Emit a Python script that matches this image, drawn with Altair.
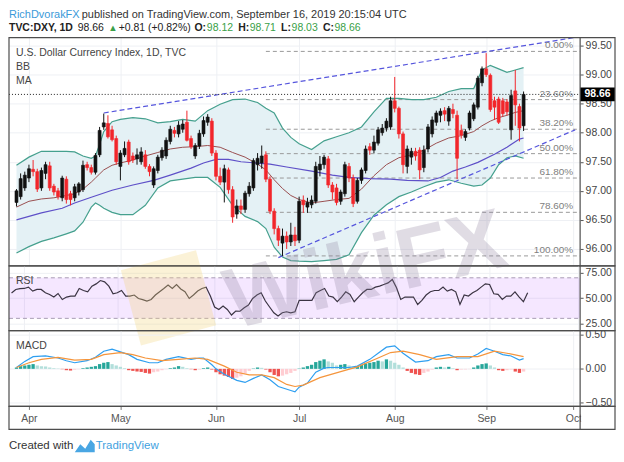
import altair as alt
import pandas as pd

FONT = "Liberation Sans"
W = 573          # plot width (all panels)
AXW = 35         # price-axis column width
H1, H2, H3 = 229, 65, 76
XROW = 23
FRAME = "#4d4d4d"
GRID = "#eef0f4"
UP, DN = "#111111", "#f2262b"

# ---------------- data ----------------
first_bar = -3   # bar index; Apr 1 = 0
opens = [96.80, 96.90, 97.05, 97.22, 97.37, 97.33, 97.05, 97.30, 97.43, 97.08, 97.00, 96.88, 97.20, 96.95, 96.88, 96.98, 97.02, 97.45, 97.40, 97.32, 97.62, 98.10, 98.16, 98.05, 97.90,
         97.42, 97.62, 97.84, 97.60, 97.55, 97.50, 97.62, 97.42, 97.10, 97.35, 97.57, 97.60, 97.85, 98.04, 97.98, 98.06, 98.18, 97.90, 97.60, 97.77, 97.98, 98.18, 98.20,
         97.65, 97.25, 97.15, 97.36, 97.02, 96.60, 96.74, 96.68, 96.95, 97.05, 97.45, 97.48, 97.62, 97.20, 96.65, 96.35, 96.10, 96.22, 96.12, 96.24,
         96.15, 96.84, 96.72, 96.76, 96.82, 97.36, 97.45, 97.55, 97.10, 97.05, 96.82, 96.95, 97.42, 97.22, 96.82, 97.18, 97.35, 97.76, 97.70, 97.82, 98.00, 98.08, 98.10,
         98.55, 98.42, 97.98, 97.42, 97.58, 97.68, 97.70, 97.40, 97.72, 97.98, 98.18, 98.30, 98.38, 98.20, 98.40, 98.30, 98.04, 97.92, 98.08, 98.24, 98.44, 98.86,
         99.10, 98.99, 98.55, 98.58, 98.55, 98.53, 98.05, 98.72, 98.45, 98.12]
highs = [97.03, 97.30, 97.33, 97.45, 97.53, 97.38, 97.40, 97.50, 97.50, 97.12, 97.05, 97.26, 97.25, 97.00, 97.12, 97.15, 97.52, 97.50, 97.45, 97.65, 98.10, 98.33, 98.30, 98.12, 97.95,
         97.70, 97.85, 97.88, 97.66, 97.73, 97.75, 97.70, 97.46, 97.42, 97.62, 97.75, 97.92, 98.12, 98.10, 98.20, 98.22, 98.38, 97.95, 97.82, 98.05, 98.28, 98.32, 98.25,
         97.70, 97.40, 97.45, 97.40, 97.08, 96.85, 96.85, 97.00, 97.15, 97.56, 97.65, 97.78, 97.68, 97.25, 96.70, 96.40, 96.35, 96.30, 96.45, 96.38,
         96.90, 96.92, 96.88, 96.92, 97.50, 97.60, 97.62, 97.60, 97.15, 97.12, 97.02, 97.50, 97.48, 97.28, 97.22, 97.40, 97.78, 97.82, 97.95, 98.10, 98.15, 98.25, 98.62,
         98.96, 98.45, 98.02, 97.78, 97.74, 97.74, 97.75, 97.78, 98.15, 98.28, 98.38, 98.42, 98.44, 98.46, 98.50, 98.38, 98.14, 98.06, 98.38, 98.52, 98.98, 99.14,
         99.37, 99.02, 98.62, 98.62, 98.60, 98.58, 98.74, 99.08, 98.50, 98.71]
lows = [96.73, 96.85, 97.00, 97.15, 97.25, 96.98, 97.00, 97.20, 97.00, 96.92, 96.85, 96.82, 96.78, 96.75, 96.82, 96.92, 96.98, 97.35, 97.28, 97.28, 97.58, 98.05, 97.90, 97.85, 97.45,
        97.18, 97.58, 97.45, 97.48, 97.45, 97.45, 97.38, 97.25, 97.05, 97.30, 97.52, 97.55, 97.80, 97.92, 97.92, 98.00, 97.85, 97.72, 97.55, 97.72, 97.93, 98.12, 97.60,
        97.18, 97.10, 96.80, 96.95, 96.45, 96.52, 96.60, 96.62, 96.90, 97.00, 97.35, 97.38, 97.15, 96.60, 96.25, 96.05, 95.88, 96.00, 96.05, 96.05,
        96.10, 96.62, 96.62, 96.70, 96.78, 97.25, 97.38, 97.05, 96.85, 96.75, 96.76, 96.90, 97.15, 96.72, 96.78, 97.12, 97.30, 97.62, 97.65, 97.78, 97.95, 98.02, 98.05,
        98.35, 97.90, 97.30, 97.30, 97.45, 97.52, 97.20, 97.32, 97.66, 97.92, 98.12, 98.18, 98.20, 98.12, 98.25, 97.20, 97.90, 97.86, 98.04, 98.20, 98.40, 98.80,
        98.96, 98.36, 98.22, 98.15, 98.28, 98.30, 97.88, 98.12, 97.85, 98.03]
closes = [97.00, 97.21, 97.27, 97.38, 97.33, 97.03, 97.35, 97.45, 97.05, 96.98, 96.90, 97.22, 96.85, 96.85, 97.07, 97.12, 97.44, 97.40, 97.32, 97.61, 98.04, 98.17, 97.93, 97.88, 97.50,
          97.65, 97.73, 97.50, 97.53, 97.62, 97.67, 97.42, 97.33, 97.38, 97.58, 97.70, 97.87, 98.06, 97.99, 98.13, 98.15, 97.87, 97.76, 97.78, 97.99, 98.21, 98.27, 97.65,
          97.25, 97.15, 97.38, 97.02, 96.55, 96.74, 96.68, 96.96, 97.08, 97.52, 97.56, 97.60, 97.20, 96.65, 96.35, 96.15, 96.22, 96.12, 96.24, 96.14,
          96.82, 96.76, 96.80, 96.84, 97.42, 97.46, 97.58, 97.10, 96.98, 96.80, 96.98, 97.45, 97.22, 96.78, 97.18, 97.36, 97.72, 97.70, 97.84, 98.05, 98.08, 98.20, 98.55,
          98.42, 97.98, 97.45, 97.72, 97.68, 97.60, 97.36, 97.70, 98.10, 98.22, 98.34, 98.37, 98.32, 98.42, 98.33, 97.56, 97.96, 98.02, 98.34, 98.48, 98.94, 99.10,
          99.00, 98.40, 98.44, 98.18, 98.33, 98.36, 98.64, 98.48, 98.08, 98.66]

bb_idx = [-3, 0, 3, 6, 9, 11, 13, 15, 16, 17, 18, 20, 22, 25, 28, 31, 34, 37, 40, 43, 46, 49, 52, 55, 57,
          59, 61, 63, 65, 68, 71, 74, 77, 80, 83, 86, 89, 92, 95, 98, 101, 104, 107, 109, 111, 113, 115, 117, 119]
bb_upper = [97.44, 97.58, 97.68, 97.68, 97.68, 97.67, 97.60, 97.56, 97.60, 97.80, 98.02, 98.19, 98.23, 98.26, 98.24, 98.17, 98.19, 98.23, 98.20, 98.38, 98.49, 98.57, 98.58, 98.52, 98.42,
            98.34, 98.08, 97.92, 97.81, 97.71, 97.86, 97.93, 98.00, 98.10, 98.36, 98.59, 98.59, 98.57, 98.57, 98.61, 98.71, 98.76, 98.76, 99.08, 99.16, 99.10, 99.04, 99.08, 99.12]
bb_basis = [96.72, 96.82, 96.86, 96.88, 96.92, 96.95, 97.03, 97.15, 97.22, 97.29, 97.36, 97.44, 97.48, 97.53, 97.60, 97.66, 97.72, 97.75, 97.76, 97.78, 97.75, 97.66, 97.58, 97.46, 97.36,
            97.19, 97.04, 96.92, 96.85, 96.79, 96.82, 96.85, 96.87, 97.03, 97.26, 97.45, 97.57, 97.62, 97.70, 97.82, 97.91, 97.95, 98.02, 98.12, 98.20, 98.26, 98.30, 98.35, 98.38]
bb_lower = [95.93, 96.04, 96.13, 96.19, 96.26, 96.31, 96.46, 96.72, 96.79, 96.75, 96.70, 96.63, 96.59, 96.59, 96.75, 97.05, 97.17, 97.20, 97.23, 97.23, 97.06, 96.75, 96.56, 96.47, 96.35,
            96.03, 95.86, 95.80, 95.79, 95.78, 95.80, 95.82, 95.90, 96.28, 96.58, 96.76, 96.90, 96.98, 97.07, 97.15, 97.19, 97.13, 97.08, 97.10, 97.22, 97.45, 97.57, 97.60, 97.56]

ma_idx = [-3, 3, 8, 11, 15, 20, 25, 30, 34, 39, 42, 45, 48, 51, 58, 62, 68, 73, 77, 82, 87, 91, 96, 99, 102, 105, 108, 112, 115, 118, 119]
ma_val = [96.50, 96.62, 96.70, 96.79, 96.89, 97.01, 97.10, 97.18, 97.27, 97.39, 97.48, 97.54, 97.54, 97.50, 97.46, 97.41,
          97.34, 97.27, 97.23, 97.21, 97.20, 97.18, 97.17, 97.23, 97.34, 97.41, 97.49, 97.63, 97.75, 97.89, 97.91]

fib_labels = ["0.00%", "23.60%", "38.20%", "50.00%", "61.80%", "78.60%", "100.00%"]
fib_levels = [99.40, 98.57, 98.06, 97.64, 97.22, 96.63, 95.88]
fib_start = 57

trend_id = ["upper", "upper", "lower", "lower"]
trend_idx = [18, 131.4, 60, 131.4]
trend_val = [98.34, 99.64, 95.85, 98.05]

last_price = 98.66

rsi = [55, 58.5, 59.4, 59.5, 60.8, 56.9, 58.5, 58.5, 55.2, 53.6, 51, 54.5, 48.6, 51, 52, 52, 59.4, 57.5, 56.2, 61.8, 64, 67.3, 66, 61.8, 54.2,
       55.2, 57.5, 52, 52, 53, 49.6, 48.5, 47.1, 48.6, 53, 56.2, 59.4, 62.8, 59.4, 63.4, 59, 56.2, 49.6, 53, 56.9, 59.4, 60.8, 52,
       41.2, 38.8, 42.1, 38.8, 33.3, 37.2, 37, 40.5, 43.1, 49.6, 53, 55.2, 47.1, 41.2, 35.5, 32.3, 35.5, 36.5, 35.5, 36.5,
       47.7, 47.7, 47.7, 47.7, 55.2, 57.5, 59.4, 52, 51, 46.4, 51, 56.2, 53.6, 46.4, 51, 55.2, 58.5, 58.5, 60.8, 61.8, 63.4, 65, 68.3,
       60.1, 48.6, 51, 51, 51, 43.7, 47.7, 53, 56.2, 57.5, 57.5, 60.8, 56.9, 58.5, 56.2, 43.7, 53, 52, 55.2, 57.5, 60.8, 64,
       63.4, 54.2, 53.6, 48.6, 52, 52, 56.2, 51, 46.4, 55.2]

macd_idx = [-3, -1, 1, 4, 7, 9, 11, 14, 16, 18, 20, 22, 24, 26, 29, 31, 33, 36, 39, 41, 42, 44, 45, 47, 50, 52, 54, 56, 58, 60,
            63, 64, 65, 67, 69, 71, 72, 75, 77, 79, 82, 84, 86, 88, 90, 93, 96, 98, 101, 103, 106, 108, 110, 112, 114, 116, 118, 119]
macd_val = [0.02, 0.11, 0.18, 0.19, 0.16, 0.12, 0.09, 0.12, 0.17, 0.26, 0.29, 0.25, 0.21, 0.14, 0.09, 0.09, 0.14, 0.18, 0.14, 0.16, 0.16, 0.06, 0.00, -0.08, -0.17, -0.20, -0.14, -0.09, -0.16, -0.26,
            -0.32, -0.34, -0.27, -0.21, -0.05, 0.01, 0.02, 0.02, 0.02, 0.04, 0.14, 0.23, 0.32, 0.34, 0.23, 0.10, 0.12, 0.18, 0.21, 0.16, 0.16, 0.22, 0.30, 0.26, 0.21, 0.19, 0.13, 0.15]
sig_idx = [-3, 0, 3, 7, 11, 15, 18, 22, 25, 28, 32, 36, 40, 43, 47, 50, 53, 56, 59, 62, 64, 66, 70, 75, 79, 84, 87, 90, 94, 98, 103, 108, 112, 115, 119]
sig_val = [0.02, 0.09, 0.14, 0.17, 0.13, 0.14, 0.21, 0.24, 0.21, 0.16, 0.12, 0.14, 0.16, 0.14, 0.04, -0.05, -0.09, -0.09, -0.13, -0.23, -0.26, -0.24, -0.13, -0.04, 0.03, 0.16, 0.24, 0.26, 0.21, 0.14, 0.18, 0.18, 0.26, 0.23, 0.18]
hist = [0.02, 0.04, 0.05, 0.06, 0.07, 0.05, 0.04, 0.035, 0.02, 0.01, 0.005, -0.005, -0.02, -0.025, -0.012, -0.005, 0.01, 0.02, 0.03, 0.04, 0.07, 0.09, 0.10, 0.07, 0.05,
        0.03, 0.01, -0.02, -0.03, -0.04, -0.045, -0.06, -0.07, -0.05, -0.04, -0.02, -0.005, 0.01, 0.02, 0.04, 0.03, 0.01, -0.005, -0.02, -0.01, 0.01, 0.02, -0.01,
        -0.05, -0.08, -0.10, -0.12, -0.15, -0.13, -0.11, -0.07, -0.03, 0.005, 0.02, 0.015, -0.01, -0.05, -0.09, -0.11, -0.10, -0.08, -0.06, -0.03,
        0.005, 0.02, 0.04, 0.06, 0.10, 0.12, 0.14, 0.11, 0.09, 0.05, 0.06, 0.07, 0.05, 0.03, 0.04, 0.06, 0.08, 0.09, 0.10, 0.12, 0.11, 0.14, 0.12,
        0.09, 0.06, 0.02, -0.03, -0.06, -0.08, -0.09, -0.06, -0.04, -0.01, 0.02, 0.03, 0.02, 0.03, 0.01, -0.02, -0.01, -0.008, -0.004, 0.02, 0.05, 0.07,
        0.08, 0.05, 0.02, -0.02, -0.03, -0.02, -0.01, -0.04, -0.06, -0.04]

month_ticks = [0, 22, 45, 65, 88, 110, 131]
month_names = ["Apr", "May", "Jun", "Jul", "Aug", "Sep", "Oct"]
price_ticks = [96.0, 96.5, 97.0, 97.5, 98.0, 98.5, 99.0, 99.5]
rsi_ticks = [25, 50, 75]
macd_ticks = [-0.5, 0.0, 0.5]

# ---------------- tables ----------------
bar_index = list(range(first_bar, first_bar + len(opens)))
bars = pd.DataFrame({"i": bar_index, "o": opens, "h": highs, "l": lows, "c": closes})
bb = pd.DataFrame({"i": bb_idx, "u": bb_upper, "b": bb_basis, "lo": bb_lower})
ma = pd.DataFrame({"i": ma_idx, "v": ma_val})
fib = pd.DataFrame({"i": [fib_start] * len(fib_levels), "v": fib_levels, "t": fib_labels})
trend = pd.DataFrame({"g": trend_id, "i": trend_idx, "v": trend_val})
rsi_df = pd.DataFrame({"i": bar_index, "v": rsi})
macd_df = pd.DataFrame({"i": macd_idx, "v": macd_val})
sig_df = pd.DataFrame({"i": sig_idx, "v": sig_val})
hist_df = pd.DataFrame({"i": bar_index, "v": hist})
prev = hist_df["v"].shift(1).fillna(-1)
hist_df["col"] = [
    ("#26A69A" if v > p else "#B2DFDB") if v >= 0 else ("#EF5350" if v < p else "#FFCDD2")
    for v, p in zip(hist_df["v"], prev)
]
hist_df["zero"] = 0.0

# ---------------- scales / axes ----------------
xscale = alt.Scale(domain=[-3.6, 131.4], nice=False, zero=False)
ymain = alt.Scale(domain=[95.708, 99.637], nice=False, zero=False)
yrsi = alt.Scale(domain=[17.85, 81.76], nice=False, zero=False)
ymacd = alt.Scale(domain=[-0.554, 0.563], nice=False, zero=False)

x_grid_axis = alt.Axis(values=month_ticks, labels=False, ticks=False, domain=False, grid=True,
                       gridColor=GRID, title=None)
label_expr = "''"
for t, n in reversed(list(zip(month_ticks, month_names))):
    label_expr = f"datum.value == {t} ? '{n}' : " + label_expr
x_lab_axis = alt.Axis(values=month_ticks, labelExpr=label_expr, domain=False, grid=True, gridColor=GRID,
                      tickSize=3, tickColor="#777", labelPadding=4, labelFontSize=10.5, labelColor="#555",
                      labelFlush=False, labelOverlap=False, title=None, labelFont=FONT)


def yaxis(vals):
    return alt.Axis(orient="right", values=vals, format=".2f", grid=True, gridColor=GRID, domain=False,
                    tickSize=3, tickColor="#555", labelPadding=2, labelFontSize=10.5, labelColor="#444",
                    title=None, labelFont=FONT)


ax_main, ax_rsi, ax_macd = yaxis(price_ticks), yaxis(rsi_ticks), yaxis(macd_ticks)


def X(field="i", axis=x_grid_axis):
    return alt.X(f"{field}:Q", scale=xscale, axis=axis, title=None)


def one():
    return alt.Data(values=[{"k": 0}])


def txt(s, x, y, size=11, color="#333", weight="normal", align="left", baseline="middle", angle=0, opacity=1.0):
    kw = dict(text=s, align=align, baseline=baseline, fontSize=size, color=color, fontWeight=weight,
              font=FONT, opacity=opacity)
    if angle:
        kw["angle"] = angle
    return alt.Chart(one()).mark_text(**kw).encode(x=alt.value(x), y=alt.value(y))


def frame(h):
    box = alt.Chart(one()).mark_rect(fillOpacity=0, stroke=FRAME, strokeWidth=1.2).encode(
        x=alt.value(0), x2=alt.value(W + AXW), y=alt.value(0), y2=alt.value(h))
    sep = alt.Chart(one()).mark_rule(color=FRAME, strokeWidth=1.2).encode(
        x=alt.value(W), y=alt.value(0), y2=alt.value(h))
    return [box, sep]


# ---------------- main price panel ----------------
YM = lambda f: alt.Y(f"{f}:Q", scale=ymain, axis=ax_main, title=None)

bb_fill = alt.Chart(bb).mark_area(color="#e4f1f5", opacity=1).encode(x=X(), y=YM("u"), y2="lo")
fib_rules = alt.Chart(fib).mark_rule(color="#9a9a9a", strokeDash=[4, 3], strokeWidth=1).encode(
    x=X(), x2=alt.value(W), y=YM("v"))
bb_up = alt.Chart(bb).mark_line(color="#45a08e", strokeWidth=1.2).encode(x=X(), y=YM("u"))
bb_lo = alt.Chart(bb).mark_line(color="#45a08e", strokeWidth=1.2).encode(x=X(), y=YM("lo"))
bb_mid = alt.Chart(bb).mark_line(color="#9a4f50", strokeWidth=1).encode(x=X(), y=YM("b"))
ma_line = alt.Chart(ma).mark_line(color="#5e50c8", strokeWidth=1.2).encode(x=X(), y=YM("v"))
trend_lines = alt.Chart(trend).mark_line(color="#5656dd", strokeDash=[5, 3], strokeWidth=1.2, clip=True).encode(
    x=X(), y=YM("v"), detail="g:N")
price_line = alt.Chart(pd.DataFrame({"p": [last_price]})).mark_rule(color="#222", strokeDash=[1, 2]).encode(
    y=YM("p"), x=alt.value(0), x2=alt.value(W))
cond = alt.condition("datum.c >= datum.o", alt.value(UP), alt.value(DN))
wicks = alt.Chart(bars).mark_rule(strokeWidth=1).encode(x=X(), y=YM("l"), y2="h", color=cond)
bodies = alt.Chart(bars).mark_bar(size=3, strokeWidth=0.6).encode(x=X(), y=YM("o"), y2="c", color=cond, stroke=cond)
fib_text = alt.Chart(fib).mark_text(align="right", baseline="bottom", dy=-1, fontSize=10, color="#808080",
                                     font=FONT).encode(x=alt.value(W - 7), y=YM("v"), text="t:N")
tag = alt.Chart(pd.DataFrame({"p": [last_price]})).mark_point(
    shape="M-1,-0.4L1,-0.4L1,0.4L-1,0.4Z", size=AXW * AXW, filled=True, color="#000000", opacity=1,
    strokeWidth=0).encode(x=alt.value(W + AXW / 2), y=YM("p"))
tag_text = alt.Chart(pd.DataFrame({"p": [last_price]})).mark_text(
    color="#ffffff", fontWeight="bold", fontSize=10.5, font=FONT).encode(
    x=alt.value(W + AXW / 2), y=YM("p"), text=alt.Text("p:Q", format=".2f"))

GREEN = "#3a9f48"
L2 = -10
header = [
    txt("RichDvorakFX", 0, -29, size=11, color="#3a9ad9", baseline="top"),
    txt("published on TradingView.com, September 16, 2019 20:15:04 UTC", 73, -29, size=11, color="#333",
        baseline="top"),
    txt("TVC:DXY, 1D", 0, L2, size=10.5, color="#222", weight="bold"),
    txt("98.66", 69, L2, size=10.5, color="#222"),
    txt("▲", 99.5, L2, size=9.5, color=GREEN),
    txt("+0.81 (+0.82%)", 110, L2, size=10.5, color="#222"),
    txt("O:", 186, L2, size=10.5, color="#222", weight="bold"),
    txt("98.12", 198.5, L2, size=10.5, color=GREEN),
    txt("H:", 230, L2, size=10.5, color="#222", weight="bold"),
    txt("98.71", 241.5, L2, size=10.5, color=GREEN),
    txt("L:", 273, L2, size=10.5, color="#222", weight="bold"),
    txt("98.03", 283.5, L2, size=10.5, color=GREEN),
    txt("C:", 315, L2, size=10.5, color="#222", weight="bold"),
    txt("98.66", 326.5, L2, size=10.5, color=GREEN),
    txt("U.S. Dollar Currency Index, 1D, TVC", 7, 15.5, size=10.5, color="#444"),
    txt("BB", 7, 29.5, size=10.5, color="#444"),
    txt("MA", 7, 43.5, size=10.5, color="#444"),
]

main = alt.layer(
    bb_fill, fib_rules, bb_up, bb_lo, bb_mid, ma_line, trend_lines, price_line, wicks, bodies,
    fib_text, *header, tag, tag_text, *frame(H1)
).properties(width=W, height=H1)

# ---------------- RSI panel ----------------
YR = lambda f: alt.Y(f"{f}:Q", scale=yrsi, axis=ax_rsi, title=None)
rsi_band = alt.Chart(pd.DataFrame({"a": [70], "b": [30]})).mark_rect(color="#9915ff", opacity=0.1).encode(
    y=YR("a"), y2="b", x=alt.value(0), x2=alt.value(W))
rsi_lines = alt.Chart(pd.DataFrame({"v": [70, 30]})).mark_rule(color="#a89cb5", strokeDash=[4, 3]).encode(
    y=YR("v"), x=alt.value(0), x2=alt.value(W))
rsi_line = alt.Chart(rsi_df).mark_line(color="#3b3443", strokeWidth=1.2).encode(x=X(), y=YR("v"))
logo_sq = alt.Chart(one()).mark_point(shape="square", size=78 * 78, filled=True, color="#f3d37a",
                                      opacity=0.3, angle=345, strokeWidth=0).encode(
    x=alt.value(160), y=alt.value(32))
watermark = txt("WikiFX", 358, 6, size=86, color="#8e819e", weight="bold", align="center",
                angle=347, opacity=0.27)
rsi_panel = alt.layer(
    rsi_band, rsi_lines, rsi_line, logo_sq, watermark,
    txt("RSI", 7, 15, size=10.5, color="#444"), *frame(H2)
).properties(width=W, height=H2)

# ---------------- MACD panel ----------------
YC = lambda f: alt.Y(f"{f}:Q", scale=ymacd, axis=ax_macd, title=None)
XL = lambda f="i": X(f, x_lab_axis)
hist_bars = alt.Chart(hist_df).mark_bar(size=3.3).encode(
    x=XL(), y=YC("v"), y2="zero", color=alt.Color("col:N", scale=None, legend=None))
macd_line = alt.Chart(macd_df).mark_line(color="#2f9ff0", strokeWidth=1.2).encode(x=XL(), y=YC("v"))
sig_line = alt.Chart(sig_df).mark_line(color="#f5953c", strokeWidth=1.2).encode(x=XL(), y=YC("v"))
cover = alt.Chart(one()).mark_rect(color="#ffffff").encode(
    x=alt.value(W + 1), x2=alt.value(W + AXW), y=alt.value(H3 + 1), y2=alt.value(H3 + XROW))
xrow = alt.Chart(one()).mark_rect(fillOpacity=0, stroke=FRAME, strokeWidth=1.2).encode(
    x=alt.value(0), x2=alt.value(W + AXW), y=alt.value(H3), y2=alt.value(H3 + XROW))
xrow_sep = alt.Chart(one()).mark_rule(color=FRAME, strokeWidth=1.2).encode(
    x=alt.value(W), y=alt.value(H3), y2=alt.value(H3 + XROW))
tv_logo = alt.Chart(one()).mark_point(
    shape="M-1,0.7L-0.45,-0.1L0.05,0.35L0.6,-0.55L1,-0.1L1,0.7Z", size=400, filled=True,
    color="#49a6e3", opacity=1, strokeWidth=0).encode(x=alt.value(76), y=alt.value(115))
macd_panel = alt.layer(
    hist_bars, macd_line, sig_line, txt("MACD", 7, 15, size=10.5, color="#444"),
    cover, *frame(H3), xrow, xrow_sep,
    txt("Created with", 0, 116, size=11.5, color="#333"), tv_logo,
    txt("TradingView", 87, 116, size=11.5, color="#3fa1e0"),
).properties(width=W, height=H3)

chart = alt.vconcat(main, rsi_panel, macd_panel, spacing=0, bounds="flush").properties(
    padding=0, background="#ffffff"
).configure_view(stroke=None).configure_axis(labelFont=FONT)

chart.save("out.html", embed_options={"renderer": "svg", "actions": False})
